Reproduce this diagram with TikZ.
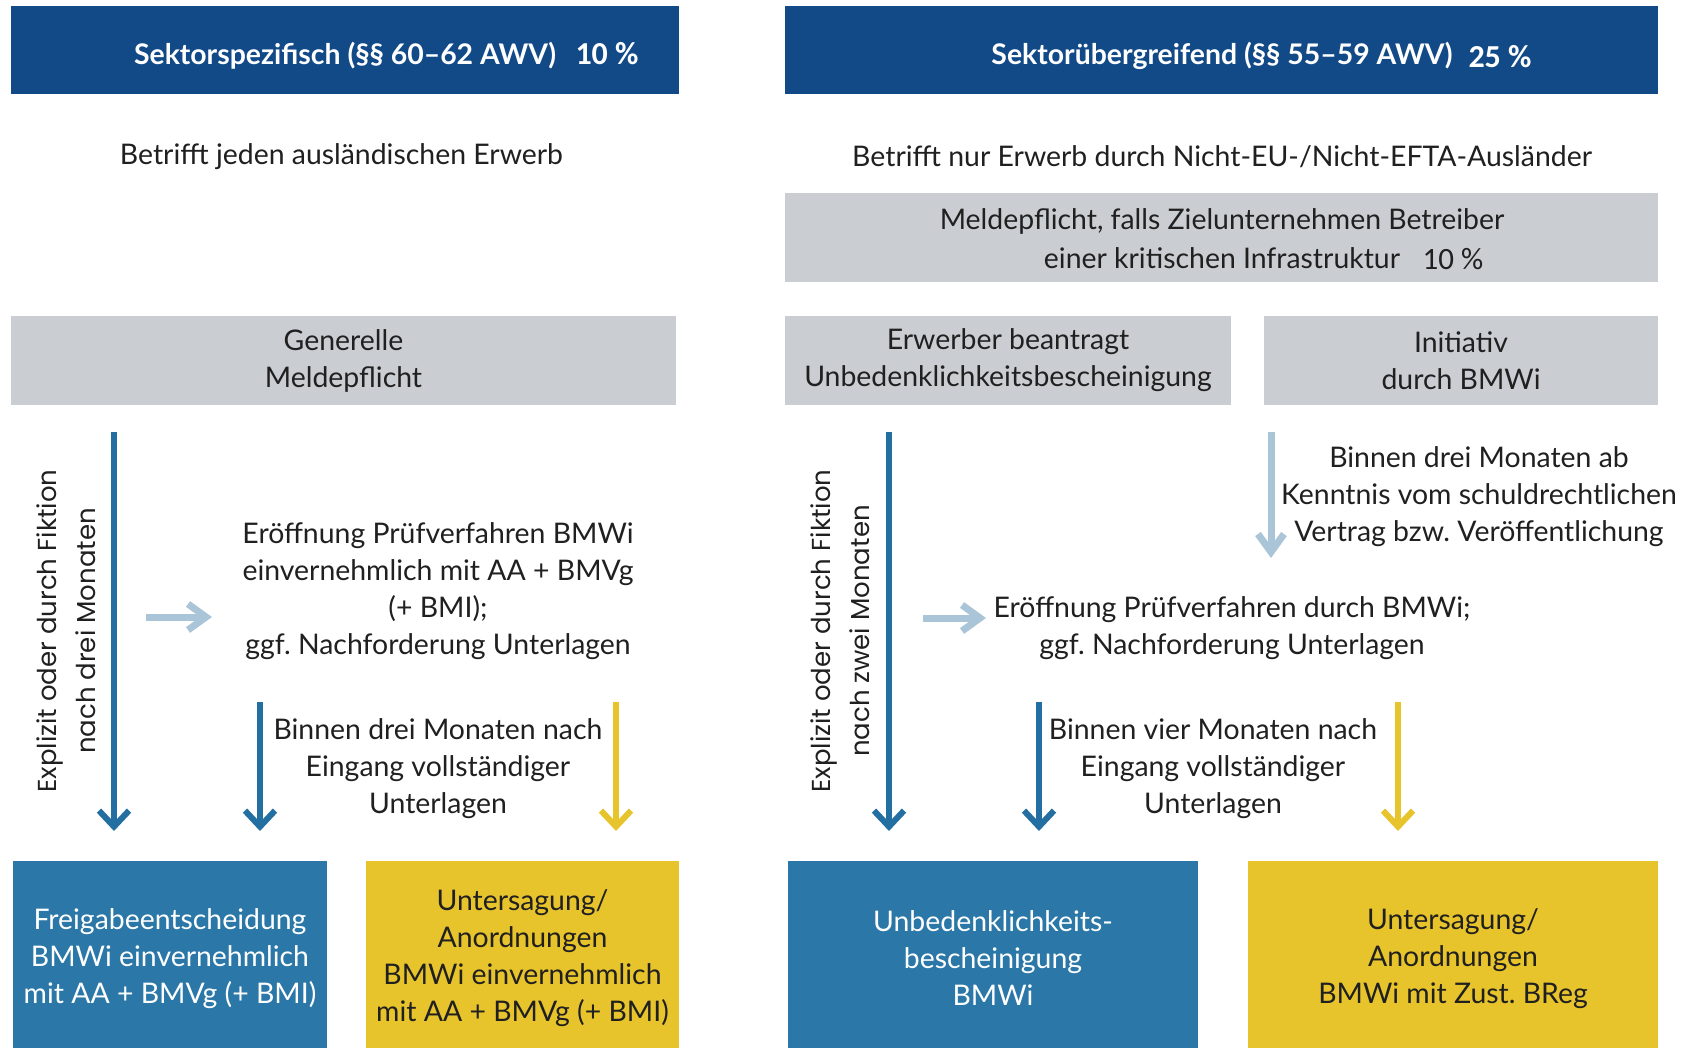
\documentclass[tikz,border=0pt]{standalone}
\usepackage{fontspec}
\setmainfont{Lato}
\newfontfamily\pctfont{Carlito}
\newfontfamily\sidefont{Poppins}
\usetikzlibrary{arrows.meta,positioning}

\definecolor{bmnavy}{HTML}{124A88}
\definecolor{bmgray}{HTML}{CACED2}
\definecolor{bmblue}{HTML}{2A77A8}
\definecolor{bmarrow}{HTML}{236FA2}
\definecolor{bmyellow}{HTML}{E8C42C}
\definecolor{bmlight}{HTML}{ABC5D8}
\definecolor{bmtext}{HTML}{202020}

\frenchspacing

\begin{document}
\begin{tikzpicture}[x=0.5pt, y=-0.5pt,
    every node/.style={text=bmtext, align=center, inner sep=0pt,
        font=\fontsize{14.2}{18.5}\selectfont},
    bar/.style={fill=bmnavy, minimum height=44pt},
    headtext/.style={text=white, font=\bfseries\fontsize{14.2}{16}\selectfont},
    pct/.style={font=\pctfont\bfseries\fontsize{16}{18}\selectfont},
    graybox/.style={fill=bmgray, minimum height=44.5pt},
    bluebox/.style={fill=bmblue, text=white, minimum height=97.5pt},
    yellowbox/.style={fill=bmyellow, minimum height=97.5pt},
    side/.style={rotate=90, font=\sidefont\fontsize{13}{19.5}\selectfont},
    flow/.style={line width=3pt, -{Straight Barb[length=8pt,width=15pt]}},
    hint/.style={bmlight, line width=3.5pt, -{Straight Barb[length=9pt,width=13pt]}}]

    \useasboundingbox[fill=white] (0,0) rectangle (1682,1048);

    % Headers
    \node[bar, minimum width=334pt] (barL) at (345,50) {};
    \node[bar, minimum width=436.5pt] (barR) at (1221.5,50) {};
    \node[headtext] (headL) at (345,56) {Sektorspezifisch (§§ 60–62 AWV)};
    \node[headtext] (headR) at (1222,56) {Sektorübergreifend (§§ 55–59 AWV)};
    \node[pct, text=white] (pctL) at (607,54) {10 \%};
    \node[pct, text=white] (pctR) at (1500,57) {25 \%};

    \node (scopeL) at (341.5,157) {Betrifft jeden ausländischen Erwerb};
    \node (scopeR) at (1222,157) {Betrifft nur Erwerb durch Nicht-EU-/Nicht-EFTA-Ausländer};

    \node[graybox, minimum width=436.5pt] (krit) at (1221.5,237.5) {};
    \node (kritL1) at (1222,221) {Meldepflicht, falls Zielunternehmen Betreiber};
    \node (kritL2) at (1222,258) {einer kritischen Infrastruktur};
    \node[pct, font=\pctfont\fontsize{15.5}{17}\selectfont] (pctK) at (1453,259) {10 \%};

    % Gray row
    \node[graybox, minimum width=332.5pt] (gen) at (343.5,360.5)
        {Generelle\\Meldepflicht};
    \node[graybox, minimum width=223pt] (erw) at (1008,360.5)
        {Erwerber beantragt\\Unbedenklichkeitsbescheinigung};
    \node[graybox, minimum width=197pt] (ini) at (1461,360.5)
        {Initiativ\\durch BMWi};

    % Bottom row
    \node[bluebox, minimum width=157pt] (freL) at (170,958.5)
        {Freigabeentscheidung\\BMWi einvernehmlich\\mit AA + BMVg (+ BMI)};
    \node[yellowbox, minimum width=156.5pt] (untL) at (522.5,958.5)
        {Untersagung/\\Anordnungen\\BMWi einvernehmlich\\mit AA + BMVg (+ BMI)};
    \node[bluebox, minimum width=205pt] (unbR) at (993,958.5)
        {Unbedenklichkeits-\\bescheinigung\\BMWi};
    \node[yellowbox, minimum width=205pt] (untR) at (1453,958.5)
        {Untersagung/\\Anordnungen\\BMWi mit Zust. BReg};

    % Left column
    \node[side] (sideL) at (66,631) {Explizit oder durch Fiktion\\nach drei Monaten};
    \node (pruefL) at (438,591) {Eröffnung Prüfverfahren BMWi\\einvernehmlich mit AA + BMVg\\(+ BMI);\\ggf. Nachforderung Unterlagen};
    \node (fristL) at (438,769) {Binnen drei Monaten nach\\Eingang vollständiger\\Unterlagen};

    \coordinate (a1) at (114,432);  \coordinate (b1) at (114,831);
    \coordinate (a2) at (260,702);  \coordinate (b2) at (260,831);
    \coordinate (a3) at (616,702);  \coordinate (b3) at (616,831);
    \coordinate (h1) at (146,617);  \coordinate (k1) at (212,617);
    \draw[flow, bmarrow] (a1) -- (b1);
    \draw[flow, bmarrow] (a2) -- (b2);
    \draw[flow, bmyellow] (a3) -- (b3);
    \draw[hint] (h1) -- (k1);

    % Right column
    \node[side] (sideR) at (840,631) {Explizit oder durch Fiktion\\nach zwei Monaten};
    \node (kennt) at (1479,497) {Binnen drei Monaten ab\\Kenntnis vom schuldrechtlichen\\Vertrag bzw. Veröffentlichung};
    \node (pruefR) at (1232,628) {Eröffnung Prüfverfahren durch BMWi;\\ggf. Nachforderung Unterlagen};
    \node (fristR) at (1213,769) {Binnen vier Monaten nach\\Eingang vollständiger\\Unterlagen};

    \coordinate (a4) at (889,432);   \coordinate (b4) at (889,831);
    \coordinate (a5) at (1039,702);  \coordinate (b5) at (1039,831);
    \coordinate (a6) at (1398,702);  \coordinate (b6) at (1398,831);
    \coordinate (a7) at (1271,432);  \coordinate (b7) at (1271,558);
    \coordinate (h2) at (923,618);   \coordinate (k2) at (986,618);
    \draw[flow, bmarrow] (a4) -- (b4);
    \draw[flow, bmarrow] (a5) -- (b5);
    \draw[flow, bmyellow] (a6) -- (b6);
    \draw[hint] (a7) -- (b7);
    \draw[hint] (h2) -- (k2);
\end{tikzpicture}
\end{document}
